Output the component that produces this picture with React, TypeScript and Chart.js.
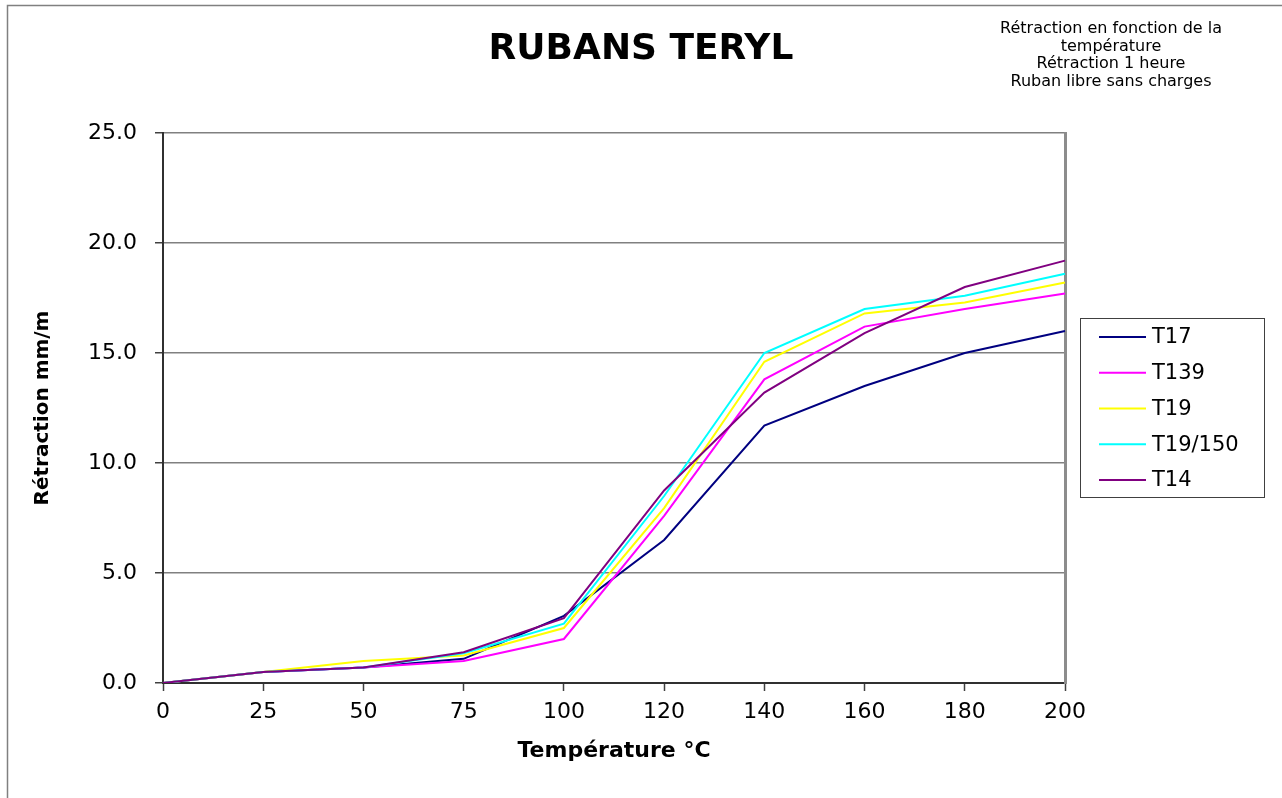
import React, { useEffect, useRef } from "react";
import { Chart, registerables } from "chart.js";

Chart.register(...registerables);

const categories = ["0", "25", "50", "75", "100", "120", "140", "160", "180", "200"];
const seriesNames = ["T17", "T139", "T19", "T19/150", "T14"];
const seriesColors = ["#000080", "#FF00FF", "#FFFF00", "#00FFFF", "#800080"];
const t17 = [0, 0.5, 0.7, 1.1, 3.05, 6.5, 11.7, 13.5, 15.0, 16.0];
const t139 = [0, 0.5, 0.7, 1.0, 2.0, 7.6, 13.8, 16.2, 17.0, 17.7];
const t19 = [0, 0.5, 1.0, 1.25, 2.5, 7.95, 14.6, 16.8, 17.3, 18.2];
const t19_150 = [0, 0.5, 0.7, 1.35, 2.7, 8.5, 15.0, 17.0, 17.6, 18.6];
const t14 = [0, 0.5, 0.7, 1.4, 2.95, 8.75, 13.2, 15.9, 18.0, 19.2];
const seriesValues = [t17, t139, t19, t19_150, t14];
const titleText = "RUBANS TERYL";
const noteLines = [
  "Rétraction en fonction de la",
  "température",
  "Rétraction 1 heure",
  "Ruban libre sans charges",
];
const xTitle = "Température °C";
const yTitle = "Rétraction mm/m";
const yTicks = { min: 0, max: 25, step: 5 };

const FONT = "'DejaVu Sans', 'Liberation Sans', Arial, sans-serif";

const decorPlugin = {
  id: "decor",
  afterDraw(chart: any) {
    const ctx = chart.ctx as CanvasRenderingContext2D;
    ctx.save();
    // outer frame (left & top)
    ctx.strokeStyle = "#808080";
    ctx.lineWidth = 1.5;
    ctx.beginPath();
    ctx.moveTo(7.5, 798);
    ctx.lineTo(7.5, 5.5);
    ctx.lineTo(1282, 5.5);
    ctx.stroke();
    // note text
    ctx.fillStyle = "#000";
    ctx.font = `16px ${FONT}`;
    ctx.textAlign = "center";
    ctx.textBaseline = "middle";
    noteLines.forEach((l, i) => ctx.fillText(l, 1111, 29 + i * 17.6));
    // legend
    ctx.strokeStyle = "#404040";
    ctx.lineWidth = 1;
    ctx.strokeRect(1080.5, 318.5, 184, 179);
    ctx.font = `21px ${FONT}`;
    ctx.textAlign = "left";
    chart.data.datasets.forEach((ds: any, i: number) => {
      const y = 337 + i * 35.75;
      ctx.strokeStyle = ds.borderColor;
      ctx.lineWidth = 2;
      ctx.beginPath();
      ctx.moveTo(1099, y);
      ctx.lineTo(1146, y);
      ctx.stroke();
      ctx.fillStyle = "#000";
      ctx.fillText(ds.label, 1152, y + 1);
    });
    ctx.restore();
  },
};

export default function App() {
  const ref = useRef<HTMLCanvasElement | null>(null);
  useEffect(() => {
    if (!ref.current) return;
    const chart = new Chart(ref.current, {
      type: "line",
      data: {
        labels: categories,
        datasets: seriesNames.map((name, i) => ({
          label: name,
          data: seriesValues[i],
          borderColor: seriesColors[i],
          backgroundColor: seriesColors[i],
          borderWidth: 2,
          pointRadius: 0,
          tension: 0,
          fill: false,
          order: seriesNames.length - i,
        })),
      },
      options: {
        responsive: false,
        animation: false,
        devicePixelRatio: 1,
        layout: { padding: 0 },
        plugins: {
          legend: { display: false },
          tooltip: { enabled: false },
          title: {
            display: true,
            text: titleText,
            color: "#000",
            font: { family: FONT, size: 36, weight: "bold", lineHeight: 1.2 },
            padding: { top: 28.4, bottom: 61.4 },
          },
        },
        scales: {
          x: {
            type: "category",
            offset: false,
            grid: {
              drawOnChartArea: false,
              drawTicks: true,
              tickLength: 8,
              tickColor: "#404040",
              tickWidth: 1.5,
            },
            border: { display: true, color: "#303030", width: 2 },
            ticks: {
              color: "#000",
              font: { family: FONT, size: 22 },
              padding: 8,
              maxRotation: 0,
              autoSkip: false,
            },
            title: {
              display: true,
              text: xTitle,
              color: "#000",
              font: { family: FONT, size: 22, weight: "bold", lineHeight: 1.2 },
              padding: { top: 0, bottom: 34 },
            },
            afterFit: (s: any) => {
              s.height = 115;
            },
          },
          y: {
            type: "linear",
            position: "left",
            min: yTicks.min,
            max: yTicks.max,
            grid: {
              color: "#808080",
              lineWidth: 1.5,
              drawTicks: true,
              tickLength: 8,
              tickColor: "#404040",
              tickWidth: 1.5,
            },
            border: { display: true, color: "#303030", width: 2 },
            ticks: {
              stepSize: yTicks.step,
              color: "#000",
              font: { family: FONT, size: 22 },
              padding: 18,
              callback: (v: any) => Number(v).toFixed(1),
            },
            title: {
              display: true,
              text: yTitle,
              color: "#000",
              font: { family: FONT, size: 20, weight: "bold", lineHeight: 1.2 },
              padding: { top: 31, bottom: 0 },
            },
            afterFit: (s: any) => {
              s.width = 163;
            },
          },
          yRight: {
            type: "linear",
            position: "right",
            min: yTicks.min,
            max: yTicks.max,
            grid: { display: false, drawTicks: false },
            border: { display: true, color: "#8c8c8c", width: 3 },
            ticks: { display: false },
            afterFit: (s: any) => {
              s.width = 217;
            },
          },
        },
      },
      plugins: [decorPlugin],
    });
    return () => chart.destroy();
  }, []);
  return (
    <div style={{ position: "fixed", left: 0, top: 0, width: 1282, height: 798, background: "#fff" }}>
      <canvas ref={ref} width={1282} height={798} style={{ width: 1282, height: 798, display: "block" }} />
    </div>
  );
}
